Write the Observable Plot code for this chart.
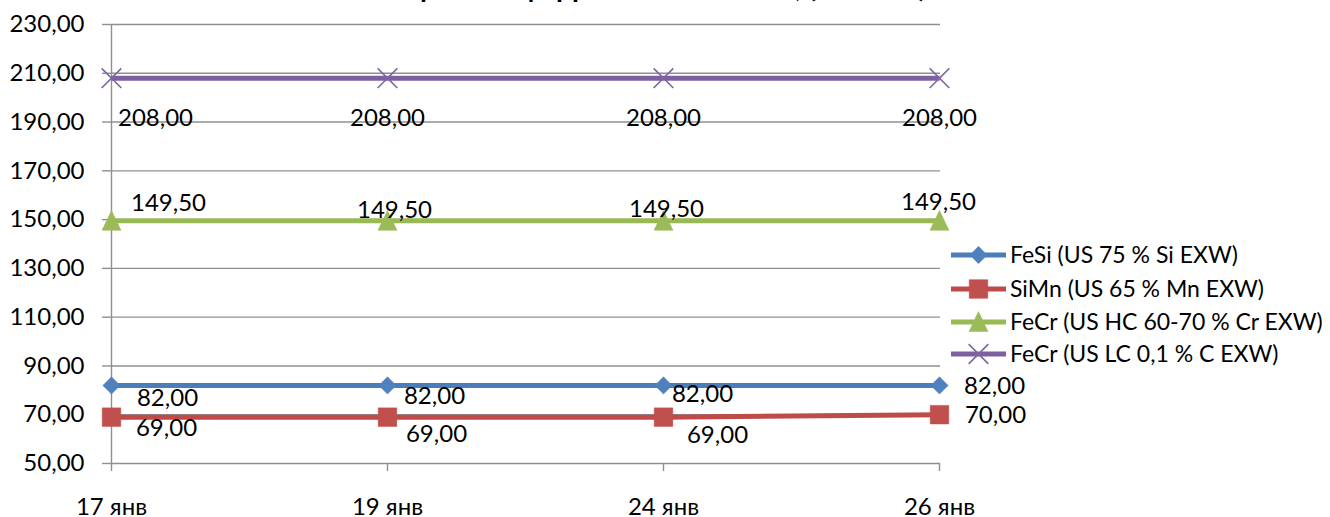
<!DOCTYPE html>
<html>
<head>
<meta charset="utf-8">
<script src="https://cdn.jsdelivr.net/npm/d3@7"></script>
<script src="https://cdn.jsdelivr.net/npm/@observablehq/plot@0.6"></script>
<style>
  html, body { margin: 0; padding: 0; background: #fff; overflow: hidden; }
  #chart { position: relative; width: 1330px; height: 517px; font-family: Lato, "Open Sans", sans-serif; }
  #title { position: absolute; left: 0; width: 1330px; top: -28px; height: 28px; line-height: 28px;
           font-size: 28px; font-weight: bold; text-align: center; color: #000; white-space: nowrap; }
  #legend { position: absolute; left: 940px; top: 230px; }
</style>
</head>
<body>
<div id="chart">
  <div id="title">Цены на ферросплавы в США, (cents/lb)</div>
</div>
<script>
// ---- data ----
const dates = ["17 янв", "19 янв", "24 янв", "26 янв"];
const feSi = [82, 82, 82, 82];
const siMn = [69, 69, 69, 70];
const feCrHC = [149.5, 149.5, 149.5, 149.5];
const feCrLC = [208, 208, 208, 208];
const seriesNames = [
  "FeSi (US 75 % Si EXW)",
  "SiMn (US 65 % Mn EXW)",
  "FeCr (US HC 60-70 % Cr EXW)",
  "FeCr (US LC 0,1 % C EXW)"
];
const yTicks = [50, 70, 90, 110, 130, 150, 170, 190, 210, 230];

// ---- styling ----
const fmt = d => d.toFixed(2).replace(".", ",");
const triangle = {
  draw(ctx, size) {
    const r = Math.sqrt(size / Math.PI);
    ctx.moveTo(0, -1.1 * r);
    ctx.lineTo(r, r);
    ctx.lineTo(-r, r);
    ctx.closePath();
  }
};
const styles = [
  {line: "#4A7EBB", mark: "#4F81BD", symbol: "diamond2", r: 7.8, filled: true,
   offsets: [[56, 13], [47, 11], [39, 9], [55, 1]]},
  {line: "#BE4B48", mark: "#C0504D", symbol: "square", r: 10.5, filled: true,
   offsets: [[55, 11], [49, 17], [54, 18], [56, 1]]},
  {line: "#98B954", mark: "#9BBB59", symbol: triangle, r: 9.5, filled: true,
   offsets: [[57, -18], [7, -11], [3, -12], [-1, -19]]},
  {line: "#7D60A0", mark: "#8064A2", symbol: "times", r: 9, filled: false,
   offsets: [[44, 40], [0, 40], [0, 40], [0, 40]]}
];
const seriesValues = [feSi, siMn, feCrHC, feCrLC];
const series = seriesNames.map((name, k) => ({name, values: seriesValues[k], ...styles[k]}));

const grid = "#8F8F8F";
const fontSize = 24;

const marks = [
  Plot.gridY(yTicks, {stroke: grid, strokeOpacity: 1, strokeWidth: 1.4}),
  Plot.ruleX([dates[0]], {stroke: grid, strokeWidth: 1.4}),
  Plot.axisY(yTicks, {tickSize: 8, tickPadding: 18, tickFormat: fmt, stroke: grid, strokeWidth: 1.4,
                      fill: "#000", fontSize, label: null}),
  Plot.axisX({tickSize: 8, tickPadding: 26, stroke: grid, strokeWidth: 1.4, fill: "#000", fontSize, label: null})
];

for (const s of series) {
  const rows = s.values.map((v, i) => ({date: dates[i], value: v}));
  marks.push(Plot.line(rows, {x: "date", y: "value", stroke: s.line, strokeWidth: 5, strokeLinecap: "butt"}));
  marks.push(Plot.dot(rows, s.filled
    ? {x: "date", y: "value", symbol: s.symbol, r: s.r, fill: s.mark, stroke: s.mark, strokeWidth: 0.5}
    : {x: "date", y: "value", symbol: s.symbol, r: s.r, fill: "none", stroke: s.mark, strokeWidth: 1.6}));
}
for (const s of series) {
  s.values.forEach((v, i) => {
    const [dx, dy] = s.offsets[i];
    marks.push(Plot.text([{date: dates[i], value: v}], {
      x: "date", y: "value", text: d => fmt(d.value), dx, dy,
      textAnchor: "middle", lineAnchor: "middle", fill: "#000", fontSize
    }));
  });
}

const chart = Plot.plot({
  width: 1330,
  height: 517,
  marginLeft: 110,
  marginRight: 390,
  marginTop: 24,
  marginBottom: 54,
  style: {fontFamily: "Lato, 'Open Sans', sans-serif", fontSize: "24px", background: "transparent", overflow: "visible", color: "#000"},
  x: {type: "point", domain: dates, padding: 0, label: null},
  y: {domain: [50, 230], label: null},
  marks
});
document.getElementById("chart").appendChild(chart);

// ---- legend ----
const leg = d3.select("#chart").append("svg")
  .attr("id", "legend").attr("width", 390).attr("height", 140)
  .style("font-family", "Lato, 'Open Sans', sans-serif");
const symMap = {diamond2: d3.symbolDiamond2, square: d3.symbolSquare, times: d3.symbolTimes};
const legY = [25, 59, 92, 124];
series.forEach((s, k) => {
  const g = leg.append("g").attr("transform", `translate(0,${legY[k]})`);
  g.append("line").attr("x1", 11).attr("x2", 66).attr("y1", 0).attr("y2", 0)
    .attr("stroke", s.line).attr("stroke-width", 5);
  const type = typeof s.symbol === "string" ? symMap[s.symbol] : s.symbol;
  g.append("path").attr("transform", "translate(38.5,0)")
    .attr("d", d3.symbol().type(type).size(Math.PI * s.r * s.r)())
    .attr("fill", s.filled ? s.mark : "none").attr("stroke", s.mark)
    .attr("stroke-width", s.filled ? 0.5 : 1.6);
  g.append("text").attr("x", 70).attr("y", 0).attr("dy", "0.35em")
    .attr("font-size", 23).attr("fill", "#000").text(s.name);
});
</script>
</body>
</html>
